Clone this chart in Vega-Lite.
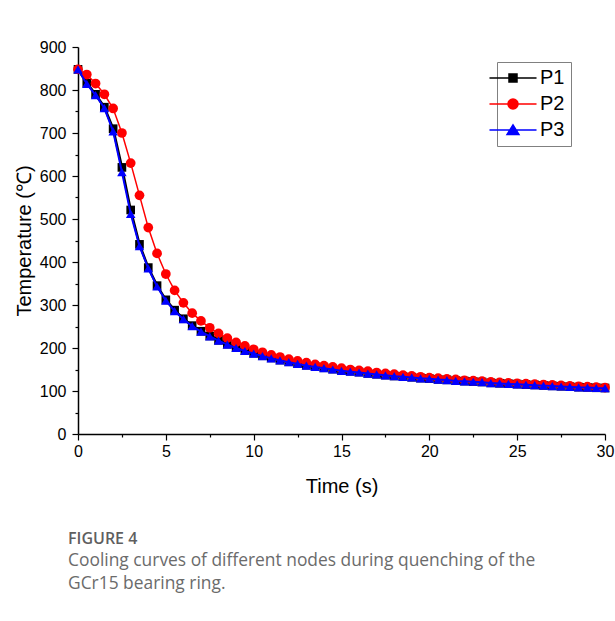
{
  "$schema": "https://vega.github.io/schema/vega-lite/v6.json",
  "autosize": "none",
  "padding": {"left": 78, "top": 47, "right": 10, "bottom": 187},
  "width": 527,
  "height": 387,
  "background": "white",
  "config": {
    "font": "Liberation Sans",
    "view": {"stroke": null},
    "axis": {"domainColor": "black", "domainWidth": 1.5, "tickColor": "black", "tickWidth": 1.2, "labelColor": "black", "titleColor": "black", "labelFont": "Liberation Sans", "titleFont": "Liberation Sans", "titleFontWeight": "normal", "grid": false}
  },
  "title": {
    "text": "FIGURE 4",
    "subtitle": ["Cooling curves of different nodes during quenching of the", "GCr15 bearing ring."],
    "orient": "bottom",
    "anchor": "start",
    "frame": "group",
    "dx": -10,
    "offset": 35,
    "font": "Open Sans",
    "fontSize": 16,
    "fontWeight": 600,
    "color": "#5f5f5f",
    "subtitleFont": "Open Sans",
    "subtitleFontSize": 17.4,
    "subtitleColor": "#6b6b6b",
    "subtitleLineHeight": 23,
    "subtitlePadding": 5
  },
  "data": {
    "values": [
      {"t": 0, "P1": 848, "P2": 848, "P3": 848},
      {"t": 0.5, "P1": 816, "P2": 836, "P3": 814},
      {"t": 1, "P1": 790, "P2": 815, "P3": 788},
      {"t": 1.5, "P1": 760, "P2": 790, "P3": 758},
      {"t": 2, "P1": 710, "P2": 757, "P3": 704},
      {"t": 2.5, "P1": 620, "P2": 700, "P3": 609},
      {"t": 3, "P1": 521, "P2": 630, "P3": 512},
      {"t": 3.5, "P1": 441, "P2": 555, "P3": 437},
      {"t": 4, "P1": 387, "P2": 480, "P3": 385},
      {"t": 4.5, "P1": 345, "P2": 420, "P3": 343},
      {"t": 5, "P1": 312, "P2": 372, "P3": 310},
      {"t": 5.5, "P1": 288, "P2": 334, "P3": 286},
      {"t": 6, "P1": 268, "P2": 305, "P3": 267},
      {"t": 6.5, "P1": 252, "P2": 281, "P3": 251},
      {"t": 7, "P1": 239, "P2": 263, "P3": 238},
      {"t": 7.5, "P1": 228, "P2": 247, "P3": 227},
      {"t": 8, "P1": 218, "P2": 234, "P3": 217},
      {"t": 8.5, "P1": 209, "P2": 223, "P3": 208},
      {"t": 9, "P1": 201, "P2": 213, "P3": 200},
      {"t": 9.5, "P1": 194, "P2": 205, "P3": 193},
      {"t": 10, "P1": 188, "P2": 197, "P3": 187},
      {"t": 10.5, "P1": 182, "P2": 190, "P3": 181},
      {"t": 11, "P1": 177, "P2": 184, "P3": 176},
      {"t": 11.5, "P1": 172, "P2": 179, "P3": 171},
      {"t": 12, "P1": 168, "P2": 174, "P3": 167},
      {"t": 12.5, "P1": 164, "P2": 170, "P3": 163},
      {"t": 13, "P1": 160, "P2": 166, "P3": 159},
      {"t": 13.5, "P1": 157, "P2": 162, "P3": 156},
      {"t": 14, "P1": 154, "P2": 159, "P3": 153},
      {"t": 14.5, "P1": 151, "P2": 156, "P3": 150},
      {"t": 15, "P1": 148, "P2": 153, "P3": 147},
      {"t": 15.5, "P1": 146, "P2": 150, "P3": 145},
      {"t": 16, "P1": 144, "P2": 148, "P3": 143},
      {"t": 16.5, "P1": 141, "P2": 146, "P3": 140.5},
      {"t": 17, "P1": 139, "P2": 143, "P3": 138.5},
      {"t": 17.5, "P1": 137, "P2": 141, "P3": 136.5},
      {"t": 18, "P1": 135, "P2": 139, "P3": 134.5},
      {"t": 18.5, "P1": 134, "P2": 137, "P3": 133},
      {"t": 19, "P1": 132, "P2": 135, "P3": 131.5},
      {"t": 19.5, "P1": 130, "P2": 133, "P3": 129.5},
      {"t": 20, "P1": 129, "P2": 131, "P3": 128.5},
      {"t": 20.5, "P1": 127, "P2": 130, "P3": 126.5},
      {"t": 21, "P1": 126, "P2": 128, "P3": 125.5},
      {"t": 21.5, "P1": 124, "P2": 127, "P3": 123.5},
      {"t": 22, "P1": 123, "P2": 125, "P3": 122.5},
      {"t": 22.5, "P1": 122, "P2": 124, "P3": 121.5},
      {"t": 23, "P1": 121, "P2": 123, "P3": 120.5},
      {"t": 23.5, "P1": 119, "P2": 121, "P3": 118.5},
      {"t": 24, "P1": 118, "P2": 120, "P3": 117.5},
      {"t": 24.5, "P1": 117, "P2": 119, "P3": 116.5},
      {"t": 25, "P1": 116, "P2": 118, "P3": 115.5},
      {"t": 25.5, "P1": 115, "P2": 117, "P3": 114.5},
      {"t": 26, "P1": 114, "P2": 116, "P3": 113.5},
      {"t": 26.5, "P1": 113, "P2": 115, "P3": 112.5},
      {"t": 27, "P1": 112, "P2": 114, "P3": 111.5},
      {"t": 27.5, "P1": 111, "P2": 113, "P3": 110.5},
      {"t": 28, "P1": 110, "P2": 112, "P3": 109.5},
      {"t": 28.5, "P1": 109, "P2": 111, "P3": 108.5},
      {"t": 29, "P1": 108.5, "P2": 110, "P3": 108},
      {"t": 29.5, "P1": 107.5, "P2": 109, "P3": 107},
      {"t": 30, "P1": 107, "P2": 108, "P3": 106.5}
    ]
  },
  "transform": [
    {"fold": ["P1", "P2", "P3"], "as": ["series", "temp"]}
  ],
  "encoding": {
    "x": {
      "field": "t", "type": "quantitative",
      "scale": {"domain": [0, 30], "nice": false, "zero": false},
      "axis": {
        "title": "Time (s)",
        "titleFontSize": 20,
        "titlePadding": 17,
        "labelFontSize": 16,
        "labelPadding": 3,
        "tickSize": 6,
        "values": [0, 2.5, 5, 7.5, 10, 12.5, 15, 17.5, 20, 22.5, 25, 27.5, 30],
        "labelExpr": "datum.value % 5 === 0 ? format(datum.value, 'd') : ''",
        "labelFlush": false,
        "labelOverlap": false,
        "encoding": {"ticks": {"y2": {"value": {"expr": "datum.value % 5 === 0 ? 6 : 3"}}}}
      }
    },
    "y": {
      "field": "temp", "type": "quantitative",
      "scale": {"domain": [0, 900], "nice": false},
      "axis": {
        "title": "Temperature (℃)",
        "titleFontSize": 20,
        "titlePadding": 5,
        "labelFontSize": 16,
        "labelPadding": 6,
        "tickSize": 6,
        "values": [0, 50, 100, 150, 200, 250, 300, 350, 400, 450, 500, 550, 600, 650, 700, 750, 800, 850, 900],
        "labelExpr": "datum.value % 100 === 0 ? format(datum.value, 'd') : ''",
        "labelFlush": false,
        "labelOverlap": false,
        "encoding": {"ticks": {"x2": {"value": {"expr": "datum.value % 100 === 0 ? -6 : -3"}}}}
      }
    },
    "color": {
      "field": "series", "type": "nominal",
      "scale": {"domain": ["P1", "P2", "P3"], "range": ["#000000", "#ff0000", "#0000ff"]},
      "legend": {
        "title": null,
        "orient": "none",
        "legendX": 419,
        "legendY": 15,
        "strokeColor": "#808080",
        "padding": 6,
        "labelFontSize": 20,
        "labelFont": "Liberation Sans",
        "labelColor": "black",
        "labelOffset": 17,
        "rowPadding": 6,
        "symbolSize": 246,
        "encoding": {
          "symbols": {
            "shape": {"value": {"expr": "datum.value === 'P1' ? 'M-3,0H3M-0.51,-0.51H0.51V0.51H-0.51Z' : datum.value === 'P2' ? 'M-3,0H3M-0.64,0A0.64,0.64,0,1,0,0.64,0A0.64,0.64,0,1,0,-0.64,0Z' : 'M-3,0H3M0,-0.66L0.76,0.57H-0.76Z'"}},
            "stroke": {"value": {"expr": "scale('color', datum.value)"}},
            "fill": {"value": {"expr": "scale('color', datum.value)"}},
            "strokeWidth": {"value": 1.5},
            "size": {"value": 246},
            "opacity": {"value": 1}
          }
        }
      }
    }
  },
  "layer": [
    {
      "transform": [{"filter": "datum.series === 'P1'"}],
      "mark": {"type": "line", "strokeWidth": 2.5},
      "encoding": {"order": {"field": "t", "type": "quantitative"}}
    },
    {
      "transform": [{"filter": "datum.series === 'P1'"}],
      "mark": {"type": "point", "filled": true, "opacity": 1, "shape": "square", "size": 75}
    },
    {
      "transform": [{"filter": "datum.series === 'P2'"}],
      "mark": {"type": "line", "strokeWidth": 1.5},
      "encoding": {"order": {"field": "t", "type": "quantitative"}}
    },
    {
      "transform": [{"filter": "datum.series === 'P2'"}],
      "mark": {"type": "point", "filled": true, "opacity": 1, "shape": "circle", "size": 95}
    },
    {
      "transform": [{"filter": "datum.series === 'P3'"}],
      "mark": {"type": "line", "strokeWidth": 2},
      "encoding": {"order": {"field": "t", "type": "quantitative"}}
    },
    {
      "transform": [{"filter": "datum.series === 'P3'"}],
      "mark": {"type": "point", "filled": true, "opacity": 1, "shape": "triangle-up", "size": 90}
    }
  ]
}
